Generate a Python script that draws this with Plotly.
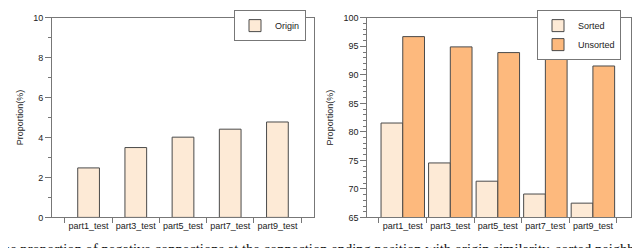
import plotly.graph_objects as go

categories = ["part1_test", "part3_test", "part5_test", "part7_test", "part9_test"]
origin = [2.48, 3.50, 4.02, 4.42, 4.78]
sorted_vals = [81.55, 74.55, 71.35, 69.1, 67.5]
unsorted_vals = [96.7, 94.9, 93.9, 93.15, 91.55]

light = "#FDEAD6"
orange = "#FDB97D"
edge = "#4a4a4a"
axc = "#777777"
font = "Liberation Sans, Arial, sans-serif"

W, H = 640, 248
def px(x): return x / W
def py(y): return (H - y) / H

fig = go.Figure()
fig.add_trace(go.Bar(x=categories, y=origin, name="Origin", marker=dict(color=light, line=dict(color=edge, width=1)),
                     width=0.46, xaxis="x", yaxis="y", legend="legend"))
fig.add_trace(go.Bar(x=categories, y=sorted_vals, name="Sorted", marker=dict(color=light, line=dict(color=edge, width=1)),
                     xaxis="x2", yaxis="y2", legend="legend2"))
fig.add_trace(go.Bar(x=categories, y=unsorted_vals, name="Unsorted", marker=dict(color=orange, line=dict(color=edge, width=1)),
                     xaxis="x2", yaxis="y2", legend="legend2"))

xcommon = dict(type="category", showline=True, linecolor=axc, linewidth=1, mirror=True,
               ticks="outside", tickson="boundaries", ticklen=5, tickcolor=axc, tickangle=0,
               tickfont=dict(family=font, size=9, color="#222"), showgrid=False, zeroline=False,
               ticklabeloverflow="allow")
ycommon = dict(showline=True, linecolor=axc, linewidth=1, mirror=True, ticks="outside", ticklen=6,
               tickcolor=axc, tickfont=dict(family=font, size=9, color="#222"), showgrid=False, zeroline=False,
               ticklabeloverflow="allow",
               title=dict(text="Proportion(%)", font=dict(family=font, size=9, color="#222"), standoff=8),
               minor=dict(ticks="outside", ticklen=3, dtick=1, tickcolor=axc))

fig.update_layout(
    width=W, height=H, margin=dict(l=0, r=0, t=0, b=0),
    paper_bgcolor="white", plot_bgcolor="white", barmode="group", bargap=0.086, bargroupgap=0,
    xaxis=dict(xcommon, domain=[px(44), px(306)], range=[-0.775, 4.775], anchor="y"),
    yaxis=dict(ycommon, domain=[py(213), py(5)], range=[0, 10], dtick=2, anchor="x"),
    xaxis2=dict(xcommon, domain=[px(359.3), px(622.7)], range=[-0.746, 4.795], anchor="y2"),
    yaxis2=dict(ycommon, domain=[py(213), py(5)], range=[65, 100], dtick=5, anchor="x2"),
    legend=dict(x=px(298), y=py(-3), xanchor="right", yanchor="top", bordercolor=axc, borderwidth=1,
                font=dict(family=font, size=9, color="#222"), bgcolor="white", itemwidth=30),
    legend2=dict(x=px(613), y=py(-3), xanchor="right", yanchor="top", bordercolor=axc, borderwidth=1,
                 font=dict(family=font, size=9, color="#222"), bgcolor="white", itemwidth=30, tracegroupgap=0),
    showlegend=True,
)

fig.add_annotation(text="The proportion of negative connections at the connection ending position with origin similarity, sorted neighbors",
                   xref="paper", yref="paper", x=px(-16), y=py(236), xanchor="left", yanchor="top",
                   showarrow=False, font=dict(family="Liberation Serif, DejaVu Serif, serif", size=14.6, color="#111"))

fig.write_html("out.html")
